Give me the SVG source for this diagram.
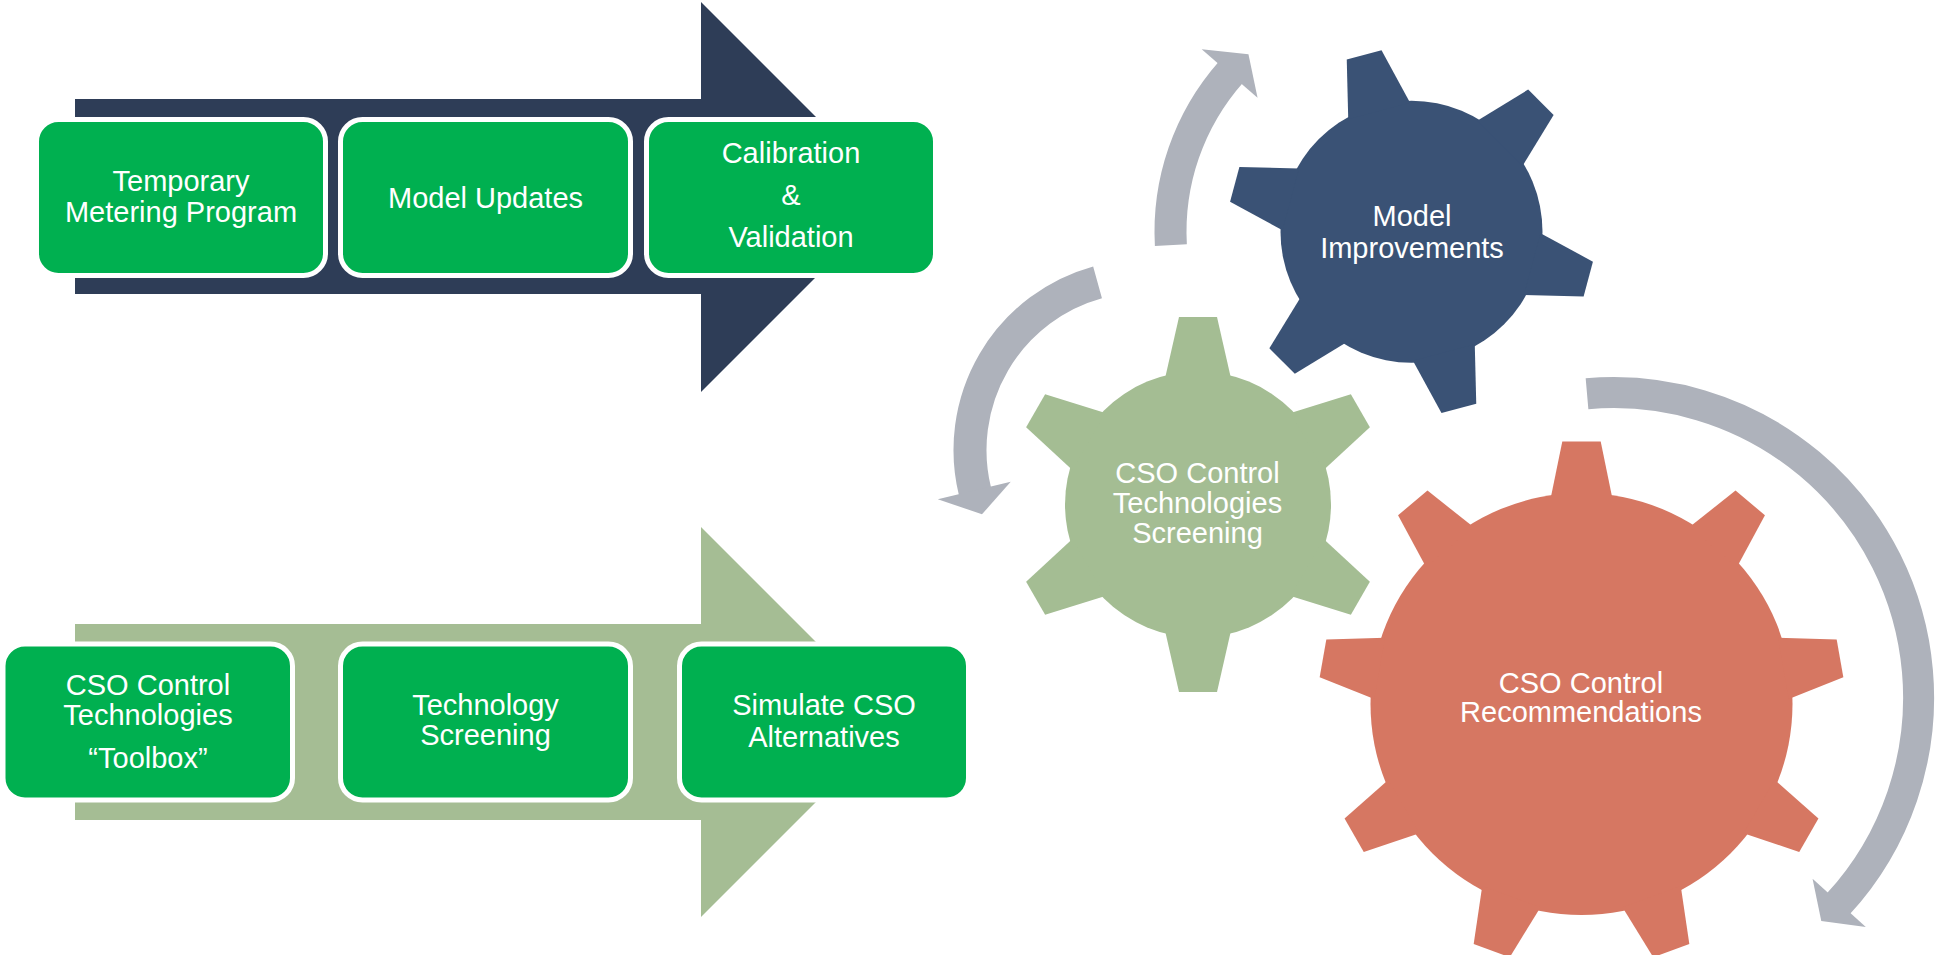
<svg xmlns="http://www.w3.org/2000/svg" xmlns:xlink="http://www.w3.org/1999/xlink" width="1936" height="955" viewBox="0 0 1936 955">
  <style>
    .lbl { font-family: "Liberation Sans", Arial, sans-serif; font-size: 29px; fill: #ffffff; text-anchor: middle; }
    .step { fill: #00B050; stroke: #ffffff; stroke-width: 5; }
    .band { fill: none; stroke: #AEB2BB; }
    .head { fill: #AEB2BB; }
    .navy { fill: #3A5275; }
    .sage { fill: #A4BD93; }
    .salmon { fill: #D67762; }
  </style>
  <defs>
    <!-- gear teeth, pointing up from the gear centre -->
    <polygon id="toothNavy" points="-32,-125 -18,-183 18,-183 32,-125"/>
    <polygon id="toothSage" points="-33,-126 -19,-187.5 19,-187.5 33,-126"/>
    <polygon id="toothSalmon" points="-31,-205 -19.2,-262.5 19.2,-262.5 31,-205"/>
  </defs>

  <rect width="1936" height="955" fill="#ffffff"/>

  <!-- process arrows -->
  <g id="arrow-data">
    <polygon fill="#2E3D57" points="75,99 701,99 701,2 896,197 701,392 701,294 75,294"/>
  </g>
  <g id="arrow-alternatives">
    <polygon fill="#A5BD94" points="75,624 701,624 701,527 896,722 701,917 701,820 75,820"/>
  </g>

  <!-- upper process steps -->
  <g id="step-metering">
    <rect class="step" x="36.5" y="119.5" width="289" height="156" rx="22"/>
    <text class="lbl" x="181" y="190.5">Temporary</text>
    <text class="lbl" x="181" y="221.5">Metering Program</text>
  </g>
  <g id="step-model-updates">
    <rect class="step" x="340.5" y="119.5" width="290" height="156" rx="22"/>
    <text class="lbl" x="485.5" y="207.5">Model Updates</text>
  </g>
  <g id="step-calibration">
    <rect class="step" x="646.5" y="119.5" width="289" height="156" rx="22"/>
    <text class="lbl" x="791" y="163">Calibration</text>
    <text class="lbl" x="791" y="205">&amp;</text>
    <text class="lbl" x="791" y="247">Validation</text>
  </g>

  <!-- lower process steps -->
  <g id="step-toolbox">
    <rect class="step" x="3" y="644" width="289.5" height="156" rx="22"/>
    <text class="lbl" x="148" y="695">CSO Control</text>
    <text class="lbl" x="148" y="724.5">Technologies</text>
    <text class="lbl" x="148" y="767.5">“Toolbox”</text>
  </g>
  <g id="step-screening">
    <rect class="step" x="340.5" y="644" width="290" height="156" rx="22"/>
    <text class="lbl" x="485.5" y="714.5">Technology</text>
    <text class="lbl" x="485.5" y="745">Screening</text>
  </g>
  <g id="step-simulate">
    <rect class="step" x="679.5" y="644" width="289" height="156" rx="22"/>
    <text class="lbl" x="824" y="715">Simulate CSO</text>
    <text class="lbl" x="824" y="746.5">Alternatives</text>
  </g>

  <!-- gears -->
  <g id="gear-model-improvements">
    <g class="navy" transform="translate(1411.5,231.7)">
      <circle r="131"/>
      <use xlink:href="#toothNavy" transform="rotate(-15)"/>
      <use xlink:href="#toothNavy" transform="rotate(45)"/>
      <use xlink:href="#toothNavy" transform="rotate(105)"/>
      <use xlink:href="#toothNavy" transform="rotate(165)"/>
      <use xlink:href="#toothNavy" transform="rotate(225)"/>
      <use xlink:href="#toothNavy" transform="rotate(285)"/>
    </g>
    <text class="lbl" x="1412" y="225.5">Model</text>
    <text class="lbl" x="1412" y="257.5">Improvements</text>
  </g>

  <g id="gear-technologies-screening">
    <g class="sage" transform="translate(1198,504.5)">
      <circle r="133"/>
      <use xlink:href="#toothSage"/>
      <use xlink:href="#toothSage" transform="rotate(60)"/>
      <use xlink:href="#toothSage" transform="rotate(120)"/>
      <use xlink:href="#toothSage" transform="rotate(180)"/>
      <use xlink:href="#toothSage" transform="rotate(240)"/>
      <use xlink:href="#toothSage" transform="rotate(300)"/>
    </g>
    <text class="lbl" x="1197.5" y="482.5">CSO Control</text>
    <text class="lbl" x="1197.5" y="512.5">Technologies</text>
    <text class="lbl" x="1197.5" y="542.5">Screening</text>
  </g>

  <g id="gear-recommendations">
    <g class="salmon" transform="translate(1581.5,704)">
      <circle r="211"/>
      <use xlink:href="#toothSalmon"/>
      <use xlink:href="#toothSalmon" transform="rotate(40)"/>
      <use xlink:href="#toothSalmon" transform="rotate(80)"/>
      <use xlink:href="#toothSalmon" transform="rotate(120)"/>
      <use xlink:href="#toothSalmon" transform="rotate(160)"/>
      <use xlink:href="#toothSalmon" transform="rotate(200)"/>
      <use xlink:href="#toothSalmon" transform="rotate(240)"/>
      <use xlink:href="#toothSalmon" transform="rotate(280)"/>
      <use xlink:href="#toothSalmon" transform="rotate(320)"/>
    </g>
    <text class="lbl" x="1581" y="693">CSO Control</text>
    <text class="lbl" x="1581" y="722">Recommendations</text>
  </g>

  <!-- circular arrows around the gears -->
  <g id="connectors">
    <g transform="translate(1411.5,231.7)">
      <circle class="band" r="241" stroke-width="32" pathLength="360" stroke-dasharray="44.6 400" transform="rotate(176.8)"/>
      <polygon class="head" points="204,0 278,0 239.5,27" transform="rotate(221)"/>
    </g>
    <g transform="translate(1144,450)">
      <circle class="band" r="174" stroke-width="33" pathLength="360" stroke-dasharray="88.3 400" transform="rotate(166.2)"/>
      <polygon class="head" points="137,0 212,0 172.5,-25" transform="rotate(166.6)"/>
    </g>
    <g transform="translate(1613.6,697.6)">
      <circle class="band" r="305" stroke-width="31" pathLength="360" stroke-dasharray="137.6 400" transform="rotate(265)"/>
      <polygon class="head" points="269,0 341,0 304,25.5" transform="rotate(42.3)"/>
    </g>
  </g>
</svg>
